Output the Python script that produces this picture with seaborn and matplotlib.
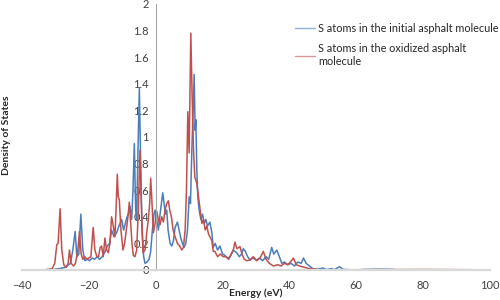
import matplotlib
matplotlib.use("Agg")
import matplotlib.pyplot as plt
import numpy as np
import pandas as pd
import seaborn as sns

# S atoms in the initial asphalt molecule (energy eV, DOS)
e_initial = [-40, -34, -31, -29, -27, -25.5, -24.8, -24.1, -23.6, -23.0, -22.4, -21.8, -21.2,
             -20.5, -19.8, -19.0, -18.3, -17.5, -16.8, -16.0, -15.1, -14.5, -13.8, -13.2, -12.5,
             -11.7, -11.0, -10.2, -9.6, -9.0, -8.7, -8.2, -7.7, -7.2, -6.8, -6.4, -6.0, -5.7,
             -5.3, -4.9, -4.5, -4.1, -3.6, -3.2, -2.6, -2.0, -1.5, -1.0, -0.5, -0.2, 0.3, 0.8,
             1.3, 1.7, 2.1, 2.5, 2.9, 3.3, 3.7, 4.3, 4.8, 5.3, 5.8, 6.5, 7.0, 7.5, 8.0, 8.5,
             9.0, 9.5, 10.0, 10.4, 10.8, 11.2, 11.5, 11.8, 12.0, 12.3, 12.6, 13.0, 13.5, 14.0,
             14.5, 15.0, 15.5, 16.2, 16.8, 17.2, 17.8, 18.5, 19.2, 20.0, 20.7, 21.5, 22.3,
             23.2, 24.2, 25.0, 25.7, 26.2, 26.8, 27.5, 28.2, 29.0, 30.2, 31.0, 32.0, 33.0,
             33.8, 34.7, 35.3, 36.2, 37.0, 37.7, 38.5, 39.5, 40.5, 41.5, 42.5, 43.5, 44.2,
             45.0, 46.0, 47.0, 48.5, 50.0, 51.0, 52.5, 53.5, 55.0, 56.0, 58.0, 60.0, 62, 66,
             70, 72, 74]
dos_initial = [0, 0, 0.003, 0.01, 0.02, 0.05, 0.15, 0.29, 0.10, 0.12, 0.42, 0.15, 0.07,
               0.08, 0.07, 0.09, 0.08, 0.10, 0.08, 0.10, 0.14, 0.18, 0.20, 0.30, 0.25,
               0.28, 0.33, 0.38, 0.30, 0.36, 0.39, 0.42, 0.48, 0.38, 0.60, 0.95, 0.45, 0.38,
               0.90, 1.37, 0.80, 0.30, 0.10, 0.05, 0.06, 0.08, 0.14, 0.30, 0.42, 0.45, 0.38, 0.30,
               0.42, 0.50, 0.58, 0.50, 0.42, 0.45, 0.30, 0.20, 0.18, 0.22, 0.32, 0.36, 0.30, 0.24, 0.20, 0.17,
               0.20, 0.30, 0.55, 0.50, 0.90, 1.20, 1.47, 1.05, 1.13, 0.75, 0.55, 0.45, 0.38, 0.42,
               0.35, 0.38, 0.33, 0.36, 0.28, 0.17, 0.20, 0.15, 0.18, 0.12, 0.11, 0.09, 0.10,
               0.15, 0.13, 0.10, 0.12, 0.16, 0.14, 0.10, 0.075, 0.09, 0.075, 0.09, 0.07, 0.10,
               0.08, 0.17, 0.12, 0.15, 0.10, 0.05, 0.06, 0.04, 0.05, 0.03, 0.06, 0.05, 0.09,
               0.05, 0.03, 0.01, 0.005, 0.015, 0.003, 0.01, 0.003, 0.025, 0.005, 0.002, 0.0, 0.004, 0.006,
               0.005, 0.002, 0.0]

# S atoms in the oxidized asphalt molecule
e_oxidized = [-40, -33, -31, -30.2, -29.6, -29.2, -28.6, -28.1, -27.5, -26.8, -26.2, -25.8, -25.3,
              -24.6, -24.0, -23.3, -22.8, -22.3, -21.8, -21.2, -20.6, -20.0, -19.4, -18.7, -18.2,
              -17.6, -17.1, -16.6, -16.2, -15.7, -15.2, -14.7, -14.2, -13.7, -13.2, -12.7, -12.2,
              -11.8, -11.5, -11.2, -10.9, -10.4, -9.8, -9.3, -8.8, -8.3, -7.9, -7.5, -7.1, -6.7,
              -6.2, -5.7, -5.2, -4.7, -4.3, -3.8, -3.2, -2.6, -2.2, -1.8, -1.5, -1.2, -0.7, -0.2,
              0.3, 0.8, 1.3, 1.8, 2.3, 2.8, 3.3, 3.8, 4.2, 4.7, 5.2, 5.8, 6.5, 7.2, 7.8, 8.3, 8.8,
              9.2, 9.6, 10.0, 10.5, 10.9, 11.3, 11.7, 12.3, 12.8, 13.3, 13.8, 14.3, 14.8, 15.3,
              15.8, 16.2, 16.8, 17.2, 17.7, 18.5, 19.3, 20.2, 21.0, 21.8, 22.6, 23.2, 23.7, 24.3,
              25.2, 25.8, 26.5, 27.2, 28.2, 29.2, 30.2, 31.2, 32.2, 33.0, 34.0, 35.2, 36.5, 37.5,
              38.5, 39.5, 40.3, 41.2, 42.0, 43.0, 44.5, 46.0, 48.0, 50.0, 55.0, 60.0, 70, 80, 90, 95]
dos_oxidized = [0, 0.002, 0.01, 0.05, 0.19, 0.20, 0.46, 0.15, 0.04, 0.02, 0.05, 0.15, 0.05,
                0.03, 0.05, 0.15, 0.29, 0.12, 0.08, 0.10, 0.08, 0.09, 0.10, 0.32, 0.15,
                0.10, 0.10, 0.17, 0.18, 0.10, 0.24, 0.15, 0.13, 0.20, 0.40, 0.33, 0.25,
                0.50, 0.72, 0.55, 0.53, 0.30, 0.15, 0.20, 0.30, 0.40, 0.51, 0.35, 0.20, 0.11,
                0.10, 0.15, 0.45, 0.90, 0.50, 0.13, 0.15, 0.30, 0.38, 0.50, 0.69, 0.55, 0.28, 0.35,
                0.44, 0.38, 0.34, 0.40, 0.36, 0.45, 0.50, 0.52, 0.45, 0.40, 0.30, 0.25, 0.20, 0.18, 0.15, 0.17, 0.30,
                0.60, 1.19, 0.88, 1.78, 1.30, 0.90, 0.70, 0.65, 0.55, 0.45, 0.35, 0.38, 0.30, 0.33,
                0.27, 0.25, 0.22, 0.14, 0.14, 0.10, 0.12, 0.10, 0.10, 0.08, 0.12, 0.15, 0.21, 0.16,
                0.175, 0.12, 0.08, 0.07, 0.075, 0.10, 0.07, 0.09, 0.14, 0.08, 0.05, 0.03, 0.04, 0.03,
                0.05, 0.04, 0.06, 0.09, 0.04, 0.03, 0.02, 0.01, 0.005, 0.002, 0.001, 0.002, 0.003, 0.004, 0.003, 0.002]

lab_initial = "S atoms in the initial asphalt molecule"
lab_oxidized = "S atoms in the oxidized asphalt\nmolecule"

df = pd.concat([
    pd.DataFrame({"Energy": e_initial, "DOS": dos_initial, "Series": lab_initial}),
    pd.DataFrame({"Energy": e_oxidized, "DOS": dos_oxidized, "Series": lab_oxidized}),
])

sns.set_style("white")
plt.rcParams["font.family"] = ["Lato", "DejaVu Sans"]

fig = plt.figure(figsize=(5, 3), dpi=100)
ax = fig.add_axes([0.044, 0.1, 0.936, 0.887])

sns.lineplot(data=df, x="Energy", y="DOS", hue="Series", estimator=None, sort=False,
             palette=["#4A7EBB", "#C0504D"], linewidth=1.1, ax=ax)

ax.set_xlim(-40, 100)
ax.set_ylim(0, 2)
ax.set_xticks(np.arange(-40, 101, 20))
ax.set_yticks(np.arange(0, 2.01, 0.2))
ax.set_yticklabels(["0", "0.2", "0.4", "0.6", "0.8", "1", "1.2", "1.4", "1.6", "1.8", "2"])

for s in ["top", "right"]:
    ax.spines[s].set_visible(False)
ax.spines["left"].set_position(("data", 0))
ax.spines["left"].set_color("#A6A6A6")
ax.spines["left"].set_linewidth(0.8)
ax.spines["bottom"].set_color("#D9D9D9")
ax.spines["bottom"].set_linewidth(1.6)
ax.tick_params(axis="y", direction="out", length=3, width=0.6, color="#A6A6A6",
               labelsize=8, labelcolor="#404040", pad=2)
ax.tick_params(axis="x", direction="out", length=3, width=0.6, color="#A6A6A6",
               labelsize=8, labelcolor="#404040", pad=4)

ax.set_xlabel("")
ax.set_ylabel("")
fig.text(0.512, 0.024, "Energy (eV)", ha="center", va="center", fontsize=7.5, fontweight="bold")
fig.text(0.014, 0.55, "Density of States", ha="center", va="center", rotation=90,
         fontsize=7.5, fontweight="bold")

leg = ax.legend(loc="upper left", bbox_to_anchor=(0.58, 0.943), bbox_transform=fig.transFigure,
                frameon=False, fontsize=7.8, handlelength=1.8, handletextpad=0.3,
                labelspacing=0.85, borderpad=0)
for t in leg.get_texts():
    t.set_linespacing(1.25)
for line in leg.get_lines():
    line.set_linewidth(1.0)
    line.set_alpha(0.6)

fig.savefig("out.png", dpi=100)
